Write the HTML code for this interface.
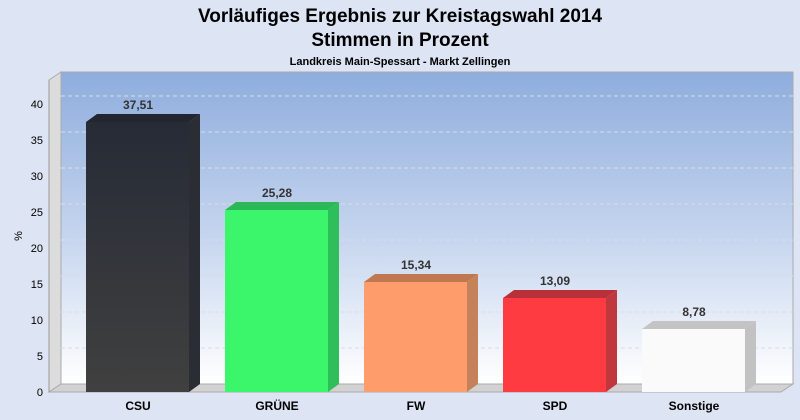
<!DOCTYPE html>
<html><head><meta charset="utf-8"><style>body{margin:0;background:#dde4f4}svg{display:block}</style></head><body>
<svg width="800" height="420" viewBox="0 0 800 420" xmlns="http://www.w3.org/2000/svg" font-family="Liberation Sans, sans-serif">
<defs>
<linearGradient id="bg" x1="0" y1="0" x2="0" y2="1"><stop offset="0" stop-color="#8eaddd"/><stop offset="0.55" stop-color="#c8d7ef"/><stop offset="1" stop-color="#ffffff"/></linearGradient>
<linearGradient id="csu" x1="0" y1="0" x2="0" y2="1"><stop offset="0" stop-color="#262b36"/><stop offset="1" stop-color="#404040"/></linearGradient>
</defs>
<rect width="800" height="420" fill="#dde4f4"/>
<text x="400" y="22" text-anchor="middle" font-size="19" font-weight="bold">Vorläufiges Ergebnis zur Kreistagswahl 2014</text>
<text x="400" y="46" text-anchor="middle" font-size="19" font-weight="bold">Stimmen in Prozent</text>
<text x="400" y="65" text-anchor="middle" font-size="11" font-weight="bold">Landkreis Main-Spessart - Markt Zellingen</text>
<rect x="61" y="72" width="732" height="312" fill="url(#bg)" stroke="#aaa"/>
<polygon points="49,80 61,72 61,384 49,392" fill="#dcdcdc" stroke="#aaa"/>
<polygon points="49,392 61,384 793,384 781,392" fill="#d2d2d2" stroke="#aaa"/>
<g stroke="#d8dde6" stroke-dasharray="4,3" fill="none">
<path d="M61,348H793M61,312H793M61,276H793M61,240H793M61,204H793M61,168H793M61,132H793M61,96H793"/>
<path d="M49,356L61,348M49,320L61,312M49,284L61,276M49,248L61,240M49,212L61,204M49,176L61,168M49,140L61,132M49,104L61,96"/>
</g>
<g font-size="11" text-anchor="end" fill="#000">
<text x="43" y="396">0</text><text x="43" y="360">5</text><text x="43" y="324">10</text><text x="43" y="288">15</text><text x="43" y="252">20</text><text x="43" y="216">25</text><text x="43" y="180">30</text><text x="43" y="144">35</text><text x="43" y="108">40</text>
</g>
<line x1="49" y1="80" x2="49" y2="392" stroke="#999"/>
<text transform="translate(22,236) rotate(-90)" font-size="11" text-anchor="middle">%</text>
<g font-size="12" font-weight="bold" fill="#333" text-anchor="middle">
<polygon points="86,122 97,114 200,114 189,122" fill="#22262e"/>
<polygon points="189,122 200,114 200,384 189,392" fill="#2a2d33"/>
<rect x="86" y="122" width="103" height="270" fill="url(#csu)"/>
<text x="138" y="109">37,51</text>
<polygon points="225,210 236,202 339,202 328,210" fill="#2db858"/>
<polygon points="328,210 339,202 339,384 328,392" fill="#2fbf5a"/>
<rect x="225" y="210" width="103" height="182" fill="#3bf66a"/>
<text x="277" y="197">25,28</text>
<polygon points="364,282 375,274 478,274 467,282" fill="#c07850"/>
<polygon points="467,282 478,274 478,384 467,392" fill="#c5825a"/>
<rect x="364" y="282" width="103" height="110" fill="#fe9c6c"/>
<text x="416" y="269">15,34</text>
<polygon points="503,298 514,290 617,290 606,298" fill="#b8303a"/>
<polygon points="606,298 617,290 617,384 606,392" fill="#c0383e"/>
<rect x="503" y="298" width="103" height="94" fill="#fe3b40"/>
<text x="555" y="285">13,09</text>
<polygon points="642,329 653,321 756,321 745,329" fill="#c4c4c4"/>
<polygon points="745,329 756,321 756,384 745,392" fill="#c2c2c2"/>
<rect x="642" y="329" width="103" height="63" fill="#fafafa"/>
<text x="694" y="316">8,78</text>
</g>
<g font-size="12" font-weight="bold" text-anchor="middle" fill="#000">
<text x="138" y="410">CSU</text><text x="277" y="410">GRÜNE</text><text x="416" y="410">FW</text><text x="555" y="410">SPD</text><text x="694" y="410">Sonstige</text>
</g>
</svg>
</body></html>
